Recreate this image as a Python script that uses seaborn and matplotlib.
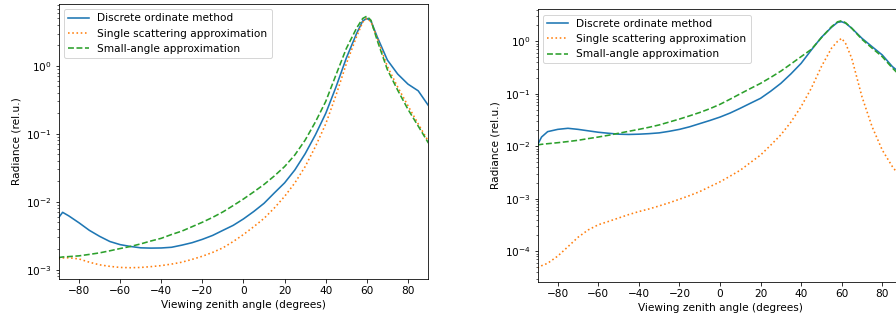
import numpy as np
import matplotlib
matplotlib.use('Agg')
import matplotlib.pyplot as plt
import seaborn as sns

# Viewing zenith angles (degrees)
angles = [-90, -88, -85, -80, -75, -70, -65, -60, -55, -50, -45, -40, -35, -30, -25,
          -20, -15, -10, -5, 0, 5, 10, 15, 20, 25, 30, 35, 40, 45, 50, 55, 58,
          60, 62, 65, 70, 75, 80, 85, 90]

# Left panel
left_do = [5.8e-3, 7.0e-3, 6.2e-3, 4.9e-3, 3.8e-3, 3.1e-3, 2.6e-3, 2.34e-3, 2.2e-3, 2.1e-3,
           2.08e-3, 2.09e-3, 2.14e-3, 2.3e-3, 2.5e-3, 2.8e-3, 3.2e-3, 3.8e-3, 4.5e-3, 5.6e-3,
           7.2e-3, 9.5e-3, 1.35e-2, 1.9e-2, 2.95e-2, 5.1e-2, 9.7e-2, 0.2, 0.49, 1.3,
           3.0, 4.6, 5.0, 4.6, 2.7, 1.22, 0.76, 0.54, 0.43, 0.26]
left_ss = [1.44e-3, 1.49e-3, 1.5e-3, 1.44e-3, 1.29e-3, 1.18e-3, 1.12e-3, 1.08e-3, 1.07e-3, 1.08e-3,
           1.11e-3, 1.15e-3, 1.21e-3, 1.29e-3, 1.42e-3, 1.58e-3, 1.8e-3, 2.1e-3, 2.6e-3, 3.3e-3,
           4.3e-3, 5.7e-3, 8.1e-3, 1.2e-2, 1.9e-2, 3.3e-2, 6.5e-2, 0.14, 0.37, 1.07,
           2.7, 4.4, 5.0, 4.5, 2.6, 0.98, 0.49, 0.26, 0.14, 0.077]
left_sa = [1.51e-3, 1.54e-3, 1.56e-3, 1.6e-3, 1.68e-3, 1.77e-3, 1.9e-3, 2.05e-3, 2.2e-3, 2.4e-3,
           2.65e-3, 2.9e-3, 3.3e-3, 3.7e-3, 4.3e-3, 5.0e-3, 5.9e-3, 7.1e-3, 8.8e-3, 1.1e-2,
           1.4e-2, 1.8e-2, 2.4e-2, 3.3e-2, 4.9e-2, 8.1e-2, 0.15, 0.30, 0.74, 1.8,
           3.6, 5.0, 5.4, 4.7, 2.4, 0.88, 0.44, 0.23, 0.13, 0.073]

# Right panel
right_do = [1.06e-2, 1.5e-2, 1.9e-2, 2.1e-2, 2.2e-2, 2.1e-2, 1.97e-2, 1.85e-2, 1.77e-2, 1.7e-2,
            1.68e-2, 1.7e-2, 1.74e-2, 1.8e-2, 1.93e-2, 2.1e-2, 2.35e-2, 2.7e-2, 3.1e-2, 3.6e-2,
            4.3e-2, 5.3e-2, 6.6e-2, 8.2e-2, 0.112, 0.158, 0.24, 0.38, 0.68, 1.19,
            1.85, 2.3, 2.36, 2.2, 1.77, 1.14, 0.79, 0.55, 0.33, 0.23]
right_ss = [4.8e-5, 5.3e-5, 5.9e-5, 8.1e-5, 1.22e-4, 1.85e-4, 2.55e-4, 3.2e-4, 3.7e-4, 4.3e-4,
            5.0e-4, 5.7e-4, 6.4e-4, 7.3e-4, 8.4e-4, 9.8e-4, 1.15e-3, 1.37e-3, 1.7e-3, 2.1e-3,
            2.7e-3, 3.5e-3, 4.9e-3, 6.8e-3, 1.05e-2, 1.65e-2, 2.9e-2, 5.7e-2, 0.127, 0.33,
            0.74, 1.0, 1.14, 0.9, 0.47, 8.8e-2, 2.36e-2, 8.5e-3, 4.1e-3, 2.3e-3]
right_sa = [1.06e-2, 1.09e-2, 1.12e-2, 1.17e-2, 1.23e-2, 1.3e-2, 1.4e-2, 1.5e-2, 1.62e-2, 1.77e-2,
            1.93e-2, 2.1e-2, 2.3e-2, 2.55e-2, 2.9e-2, 3.3e-2, 3.8e-2, 4.4e-2, 5.2e-2, 6.3e-2,
            7.9e-2, 0.1, 0.126, 0.158, 0.205, 0.27, 0.37, 0.51, 0.70, 1.17,
            1.9, 2.35, 2.47, 2.25, 1.77, 1.09, 0.74, 0.51, 0.31, 0.2]

labels = ['Discrete ordinate method', 'Single scattering approximation', 'Small-angle approximation']
colors = ['#1f77b4', '#ff7f0e', '#2ca02c']
styles = ['-', ':', '--']

plt.rcParams['font.size'] = 10.5

fig = plt.figure(figsize=(896 / 72, 320 / 72), dpi=72)
ax1 = fig.add_axes([58.5 / 896, 41 / 320, 370 / 896, 275 / 320])
ax2 = fig.add_axes([537.5 / 896, 38.3 / 320, 365 / 896, 272.4 / 320])

panels = [(ax1, [left_do, left_ss, left_sa], (7.3e-4, 8.16)),
          (ax2, [right_do, right_ss, right_sa], (2.63e-5, 4.07))]

for ax, series, ylim in panels:
    for vals, lab, col, ls in zip(series, labels, colors, styles):
        sns.lineplot(x=angles, y=vals, ax=ax, color=col, linestyle=ls, linewidth=1.6, label=lab)
    ax.set_yscale('log')
    ax.set_xlim(-90, 90)
    ax.set_ylim(*ylim)
    ax.set_xticks(range(-80, 81, 20))
    ax.set_xlabel('Viewing zenith angle (degrees)')
    ax.set_ylabel('Radiance (rel.u.)')
    ax.legend(loc='upper left')

fig.savefig('out.png', dpi=72)
